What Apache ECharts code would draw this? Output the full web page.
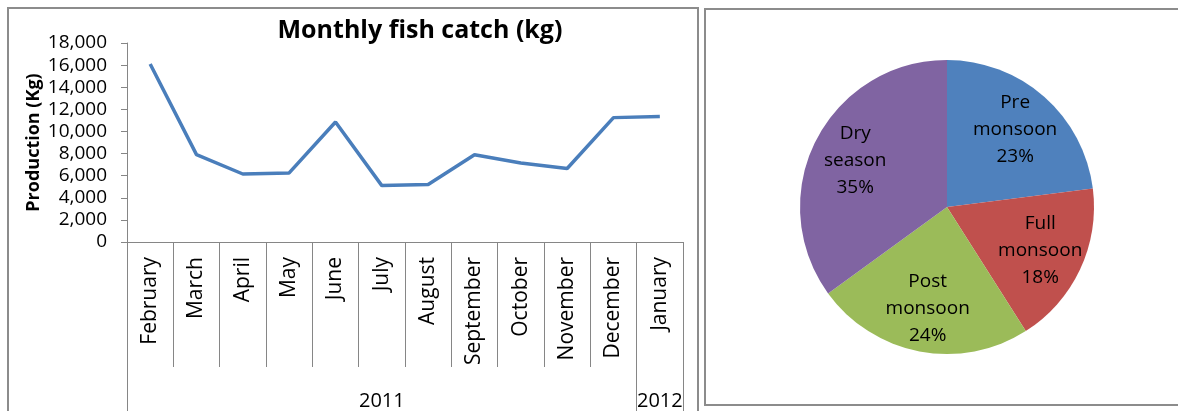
<!DOCTYPE html>
<html>
<head>
<meta charset="utf-8">
<script src="https://cdn.jsdelivr.net/npm/echarts@6/dist/echarts.min.js"></script>
<style>
  html, body { margin: 0; padding: 0; background: #fff; }
  #chart { width: 1178px; height: 411px; }
</style>
</head>
<body>
<div id="chart"></div>
<script>
// monthly catch, Feb 2011 - Jan 2012
const months = ['February', 'March', 'April', 'May', 'June', 'July', 'August',
  'September', 'October', 'November', 'December', 'January']
const yearLabels = ['', '', '', '', '', '2011', '', '', '', '', '', '2012']
const catchKg = [16100, 7900, 6150, 6250, 10850, 5100, 5200, 7900, 7150, 6650, 11250, 11350]

// seasonal share (%)
const seasonNames = ['Pre monsoon', 'Full monsoon', 'Post monsoon', 'Dry season']
const seasonShares = [23, 18, 24, 35]
const seasonColors = ['#4f81bd', '#c0504d', '#9bbb59', '#8064a2']

const FONT = '"Open Sans", sans-serif'
const AXIS_GREY = '#868686'
const BORDER_GREY = '#8c8c8c'

const chart = echarts.init(document.getElementById('chart'))

const pieData = seasonNames.map((name, i) => ({
  name,
  value: seasonShares[i],
  itemStyle: { color: seasonColors[i] },
}))

const option = {
  animation: false,
  backgroundColor: '#fff',
  title: {
    text: 'Monthly fish catch (kg)',
    left: 420,
    top: 18,
    padding: 0,
    textAlign: 'center',
    textStyle: { fontFamily: FONT, fontSize: 25, fontWeight: 'bold', color: '#000' },
  },
  graphic: [
    {
      type: 'rect',
      shape: { x: 8, y: 8, width: 690, height: 430 },
      style: { fill: 'none', stroke: BORDER_GREY, lineWidth: 2 },
      silent: true,
    },
    {
      type: 'rect',
      shape: { x: 705, y: 9, width: 500, height: 396 },
      style: { fill: 'none', stroke: BORDER_GREY, lineWidth: 2 },
      silent: true,
    },
  ],
  grid: { left: 127, top: 43, width: 556, height: 200 },
  xAxis: [
    {
      type: 'category',
      position: 'bottom',
      data: months,
      boundaryGap: true,
      axisLine: { show: true, lineStyle: { color: AXIS_GREY, width: 1 } },
      axisTick: { show: true, interval: 0, length: 125, lineStyle: { color: AXIS_GREY, width: 1 } },
      axisLabel: {
        interval: 0,
        rotate: 90,
        margin: 15,
        color: '#000',
        fontFamily: FONT,
        fontSize: 21,
      },
      splitLine: { show: false },
    },
    {
      // year grouping row under the month labels
      type: 'category',
      position: 'bottom',
      data: yearLabels,
      boundaryGap: true,
      axisLine: { show: false },
      axisTick: {
        show: true,
        interval: (idx) => idx === 0 || idx === 11,
        length: 170,
        lineStyle: { color: AXIS_GREY, width: 1 },
      },
      axisLabel: {
        interval: 0,
        margin: 149,
        color: '#000',
        fontFamily: FONT,
        fontSize: 20,
      },
      splitLine: { show: false },
    },
  ],
  yAxis: {
    type: 'value',
    min: 0,
    max: 18000,
    interval: 2000,
    name: 'Production (Kg)',
    nameLocation: 'middle',
    nameRotate: 90,
    nameGap: 84,
    nameTextStyle: { fontFamily: FONT, fontSize: 18, fontWeight: 'bold', color: '#000' },
    axisLine: { show: true, lineStyle: { color: AXIS_GREY } },
    axisTick: { show: true, length: 6, lineStyle: { color: AXIS_GREY } },
    splitLine: { show: false },
    axisLabel: {
      margin: 20,
      color: '#000',
      fontFamily: FONT,
      fontSize: 19,
      formatter: (v) => v.toLocaleString('en-US'),
    },
  },
  series: [
    {
      name: 'Catch',
      type: 'line',
      xAxisIndex: 0,
      data: catchKg,
      symbol: 'none',
      smooth: false,
      lineStyle: { color: '#4a7ebb', width: 3.5 },
      z: 3,
    },
    {
      name: 'Season',
      type: 'pie',
      center: [947, 207],
      radius: 147,
      startAngle: 90,
      clockwise: true,
      data: pieData,
      label: { show: false },
      labelLine: { show: false },
      itemStyle: { borderWidth: 0 },
      emphasis: { disabled: true },
    },
    {
      // transparent ring, only used to put the labels at ~2/3 radius
      name: 'SeasonLabels',
      type: 'pie',
      center: [947, 207],
      radius: [52, 148],
      startAngle: 90,
      clockwise: true,
      silent: true,
      data: pieData.map((d) => ({ name: d.name, value: d.value })),
      itemStyle: { color: 'rgba(0,0,0,0)', borderWidth: 0 },
      label: {
        show: true,
        position: 'inside',
        color: '#000',
        fontFamily: FONT,
        fontSize: 19,
        lineHeight: 27,
        textBorderWidth: 0,
        formatter: (p) => p.name.replace(' ', '\n') + '\n' + p.percent + '%',
      },
      labelLine: { show: false },
      emphasis: { disabled: true },
    },
  ],
}

chart.setOption(option)
</script>
</body>
</html>
